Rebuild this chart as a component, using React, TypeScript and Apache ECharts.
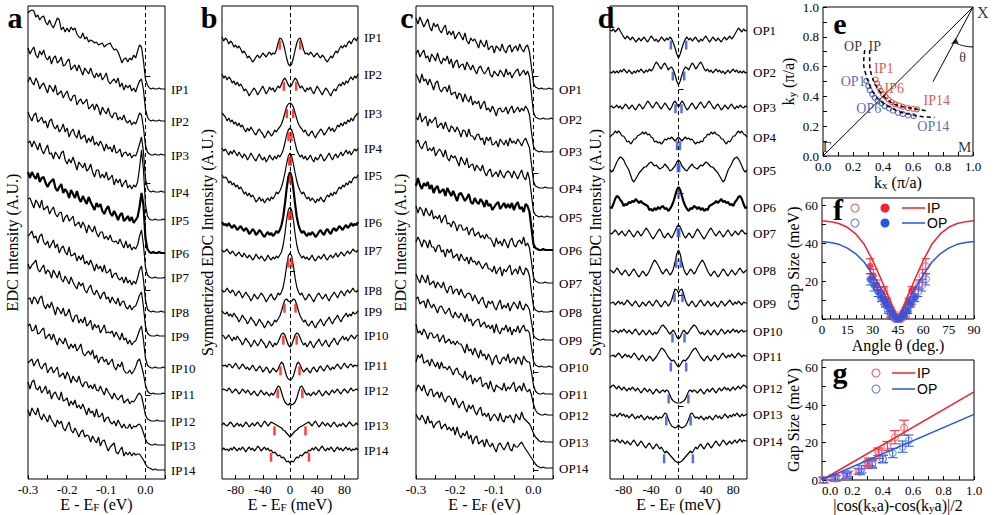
import React, { useEffect, useRef } from 'react';
import * as echarts from 'echarts';

const SERIF = "'Liberation Serif', 'Times New Roman', serif";
const SANS = "'Liberation Sans', Arial, sans-serif";
const RED = '#f5222d';
const BLUE = '#2456e8';
const E_RED = '#e02828';
const E_BLUE = '#2a45b5';

// ---------------- Panel a: in-plane (IP) EDCs, heights above the tail, E = -0.300 .. 0.050 eV step 0.005
const IP_A1 = [76,78,79,78,72,74,69,72,73,67,64,69,64,61,66,71,69,59,62,57,61,57,62,59,61,55,52,51,56,50,52,47,49,48,46,47,44,45,46,42,44,45,46,42,39,40,37,32,26,30,31,27,31,29,34,31,38,44,42,28,10,4,1,0,1,0,0,1,0,0,0];
const IP_A2 = [73,67,71,74,66,63,70,66,71,64,61,65,57,63,65,58,60,64,55,56,60,62,51,54,56,50,56,51,46,53,50,47,53,47,43,48,44,48,41,44,48,40,37,40,42,38,43,34,38,31,36,33,36,30,33,29,35,40,42,31,12,4,1,0,1,0,0,1,0,0,0];
const IP_A3 = [73,78,73,70,77,73,66,70,72,67,62,70,67,63,70,60,62,64,57,61,64,57,54,59,60,50,54,56,51,53,56,46,48,51,45,51,47,40,48,44,41,47,40,37,42,42,35,38,35,40,34,32,35,30,33,31,36,42,40,27,10,3,1,0,0,1,0,0,1,0,0];
const IP_A4 = [80,75,71,77,79,70,72,75,69,71,64,71,73,66,63,67,60,63,68,60,64,55,60,63,57,54,62,53,55,57,49,54,50,56,47,50,46,51,47,41,48,43,45,40,47,39,40,43,35,39,40,36,39,34,37,36,41,48,55,40,14,4,1,0,1,0,0,0,1,0,0];
const IP_A5 = [77,79,73,79,75,70,77,70,66,71,75,66,67,61,68,65,61,67,69,60,56,61,57,63,57,50,58,55,52,57,49,51,56,48,43,50,50,42,46,42,48,40,42,45,35,41,37,41,33,37,40,32,35,31,35,33,38,52,70,50,16,4,1,0,0,1,0,0,0,1,0];
const IP_A6 = [81,75,81,77,74,80,71,75,76,70,66,70,72,74,65,62,66,69,60,64,61,55,63,59,55,62,55,51,57,53,49,56,51,47,43,50,46,49,42,39,44,47,40,37,42,38,33,38,40,32,34,37,32,36,30,33,36,46,60,48,15,4,1,0,1,0,0,1,0,0,0];
const IP_A7 = [79,80,75,70,78,75,70,78,68,70,72,64,68,71,64,61,65,66,56,61,63,57,59,62,52,54,56,50,56,52,45,53,49,46,52,45,41,46,46,39,42,38,43,37,36,37,34,39,34,30,37,30,34,28,31,29,33,42,48,33,11,3,1,0,0,1,0,0,0,0,1];
const IP_A8 = [76,78,81,74,76,69,76,78,70,67,71,64,68,72,64,68,59,64,66,60,57,65,56,57,59,51,56,52,57,48,51,47,52,47,41,48,43,46,40,47,39,40,43,34,38,39,34,32,35,29,35,29,32,27,31,28,34,42,46,32,12,3,1,0,1,0,0,0,1,0,0];
const IP_A9 = [72,67,71,73,76,67,64,68,71,62,66,64,58,66,62,58,65,57,54,60,56,52,59,54,50,47,54,50,53,46,43,48,51,44,41,46,42,37,42,44,37,39,33,39,35,32,38,30,34,35,29,27,31,26,29,30,35,41,44,29,10,3,1,0,0,0,1,0,0,0,0];
const IP_A10 = [69,70,64,71,69,64,70,72,63,59,64,60,66,60,53,61,58,54,60,52,54,59,51,46,52,53,45,49,45,51,42,44,48,38,44,40,43,35,39,43,35,36,35,37,31,36,32,28,35,28,30,24,28,23,26,27,32,38,42,28,10,3,1,0,0,1,0,0,0,1,0];
const IP_A11 = [68,70,63,64,69,60,61,64,66,55,58,60,54,60,54,49,56,53,50,56,50,45,50,46,50,43,46,50,41,38,41,43,39,44,35,39,31,36,37,32,35,29,32,35,27,24,30,27,32,24,21,21,24,20,23,27,33,35,28,20,9,3,1,0,1,0,0,0,0,1,0];
const IP_A12 = [58,60,62,55,59,62,55,52,56,58,48,52,54,48,51,54,44,46,48,42,49,45,38,45,41,39,45,38,34,39,39,33,36,32,37,31,30,35,30,26,33,29,26,22,28,24,21,24,26,18,20,22,17,20,19,22,26,28,25,16,6,2,1,0,0,0,1,0,0,0,0];
const IP_A13 = [63,56,63,65,57,55,59,52,55,59,51,55,46,51,53,48,45,53,44,45,47,39,44,40,45,37,40,36,41,36,30,37,32,34,28,36,28,29,32,23,27,28,23,21,24,19,25,21,17,21,17,17,21,16,19,18,20,21,18,12,6,2,1,0,0,1,0,0,0,0,0];
const IP_A14 = [60,54,62,58,55,62,54,50,56,52,48,55,50,47,43,50,46,49,42,39,44,48,40,37,42,38,33,38,40,33,35,34,28,34,30,27,33,24,29,30,24,19,23,25,27,18,16,20,23,14,18,15,18,14,17,15,16,16,13,10,6,3,2,1,0,1,0,0,0,0,0];
const A_OFFSET = [390, 358, 324, 287, 259, 226, 201, 167, 143, 111, 85, 58, 34, 9];

// ---------------- Panel c: out-of-plane (OP) EDCs
const OP_C1 = [71,65,72,67,62,66,70,62,58,66,62,65,59,56,61,64,54,58,54,58,50,54,57,53,49,56,48,45,51,48,50,46,41,49,45,42,49,39,42,43,36,43,41,38,45,39,36,42,44,37,41,43,38,45,40,37,42,44,37,22,6,2,1,0,1,0,0,0,1,0,0];
const OP_C2 = [65,69,62,66,69,61,63,57,65,62,58,66,59,55,61,58,63,55,60,51,57,59,51,54,55,49,57,53,49,54,49,45,51,53,48,45,48,52,44,42,48,45,43,49,46,42,50,44,47,41,45,48,50,43,46,49,44,48,42,25,7,2,1,0,0,1,0,0,0,1,0];
const OP_C3 = [78,74,69,78,71,73,67,73,68,62,69,71,63,60,64,65,60,67,57,59,60,53,59,57,50,58,53,50,56,47,51,48,51,43,48,51,42,44,40,46,42,36,43,44,40,41,45,38,43,46,39,42,45,40,44,41,46,43,37,20,6,2,1,0,1,0,0,0,0,0,1];
const OP_C4 = [71,68,75,66,69,72,62,69,65,68,71,60,63,65,59,66,60,56,62,60,56,61,57,51,58,57,51,59,52,52,48,53,54,48,50,43,51,47,51,43,44,47,41,49,46,43,48,42,50,45,47,44,49,46,42,47,50,45,40,24,7,2,1,0,0,0,1,0,0,0,0];
const OP_C5 = [74,77,71,68,73,76,66,69,66,70,61,65,68,65,60,67,59,56,62,59,61,56,51,60,56,52,59,49,52,53,46,52,49,46,52,45,41,46,48,40,43,45,40,47,42,39,44,46,44,39,46,42,38,43,47,40,37,45,38,22,6,2,1,0,1,0,0,1,0,0,0];
const OP_C6 = [64,72,65,61,67,64,68,61,65,57,62,64,57,59,61,54,62,58,54,59,54,49,56,57,53,49,52,56,48,46,52,48,46,51,48,43,50,44,46,40,43,46,48,41,44,47,42,46,42,47,40,45,48,41,43,38,46,44,38,22,6,2,1,0,0,1,0,0,0,0,0];
const OP_C7 = [77,70,76,73,67,75,70,67,73,64,67,64,68,60,65,68,59,60,56,62,59,52,58,58,53,53,56,48,53,55,47,49,51,45,48,44,49,45,45,41,36,45,39,42,37,44,40,35,42,45,38,36,41,43,39,46,37,40,35,21,6,2,1,0,0,0,1,0,0,0,0];
const OP_C8 = [70,75,71,65,72,70,64,72,65,65,60,66,67,60,62,55,63,59,63,54,56,58,51,58,54,51,55,48,55,50,51,47,51,47,43,47,49,43,43,40,46,38,42,45,36,43,40,44,47,37,41,43,38,46,40,37,44,42,36,20,6,2,1,0,1,0,0,0,0,1,0];
const OP_C9 = [66,61,57,65,61,57,65,55,57,59,52,58,55,52,58,51,47,53,54,46,50,51,45,51,46,42,46,47,45,39,45,41,36,40,43,36,32,39,36,39,33,30,36,40,31,35,32,37,29,34,38,35,31,39,32,30,36,34,30,18,5,2,1,0,0,1,0,0,0,0,0];
const OP_C10 = [68,70,63,65,66,59,68,63,59,63,59,54,60,61,57,53,56,59,52,49,55,51,49,54,50,45,53,46,48,41,45,47,48,40,43,45,39,42,38,42,34,43,36,33,39,37,42,35,40,32,38,35,41,34,39,42,36,37,34,20,6,2,1,0,1,0,0,0,1,0,0];
const OP_C11 = [70,61,63,59,65,61,55,61,61,56,57,60,52,56,59,51,53,55,50,53,49,53,50,50,46,41,50,43,45,39,46,41,36,44,38,40,34,40,36,29,36,39,32,30,35,37,33,40,31,34,36,30,37,35,29,38,34,32,32,22,9,3,1,0,0,1,0,0,0,0,0];
const OP_C12 = [53,60,57,61,52,53,55,49,56,52,48,53,46,53,47,48,45,49,45,40,45,47,41,40,37,44,35,38,40,31,37,33,36,38,28,31,32,26,34,27,23,30,28,27,25,32,24,28,26,30,33,23,27,29,24,32,26,23,26,20,11,5,2,1,0,0,1,0,0,0,0];
const OP_C13 = [51,57,55,51,57,50,46,52,53,45,48,50,44,50,44,40,45,46,43,37,44,39,34,38,41,34,30,37,33,37,31,27,32,35,26,29,25,29,21,25,28,25,21,29,22,20,26,24,27,23,19,28,25,22,30,24,22,20,18,14,9,5,3,1,0,1,0,0,0,0,0];
const OP_C14 = [54,50,48,53,49,44,52,45,47,40,44,46,47,39,42,44,38,41,37,41,33,41,34,30,35,32,37,29,33,24,30,32,24,26,28,21,29,24,21,25,20,16,23,25,21,18,22,26,19,17,24,21,21,24,26,22,19,16,13,10,7,4,2,1,0,1,0,0,0,0,0];
const C_OFFSET = [390, 360, 327, 291, 262, 229, 196, 167, 139, 112, 85, 64, 37, 11];

// ---------------- Panel b: symmetrized IP EDCs, half curves E = 0 .. 100 meV step 2.5 (relative to curve end)
const IP_B1 = [-29,-27,-21,-13,-6,-2,-1,-6,-13,-17,-16,-18,-15,-17,-20,-18,-16,-19,-21,-18,-20,-23,-25,-22,-19,-21,-17,-14,-16,-12,-9,-11,-8,-10,-6,-4,-7,-3,-1,-4,0];
const IP_B2 = [-13,-11,-7,-4,-6,-10,-14,-12,-15,-18,-14,-16,-13,-17,-20,-16,-12,-15,-18,-21,-17,-14,-16,-19,-22,-18,-15,-17,-13,-10,-12,-8,-11,-7,-9,-5,-3,-6,-2,-4,0];
const IP_B3 = [10,9,6,0,-6,-11,-14,-16,-19,-17,-21,-23,-20,-18,-22,-25,-21,-19,-16,-18,-22,-20,-17,-14,-18,-15,-19,-16,-12,-14,-10,-13,-9,-11,-7,-9,-5,-8,-4,-2,0];
const IP_B4 = [20,18,13,5,-2,-6,-9,-7,-11,-8,-12,-10,-7,-11,-14,-9,-12,-10,-6,-9,-13,-11,-8,-5,-9,-12,-8,-6,-10,-7,-4,-8,-5,-2,-6,-3,-7,-4,-1,-3,0];
const IP_B5 = [22,19,11,2,-6,-12,-16,-19,-17,-21,-24,-22,-26,-23,-25,-28,-24,-26,-22,-25,-27,-23,-20,-22,-18,-21,-17,-19,-15,-12,-14,-10,-12,-8,-10,-6,-8,-4,-2,-3,0];
const IP_B6 = [50,45,33,18,5,-3,-8,-11,-9,-12,-14,-11,-13,-10,-12,-15,-13,-10,-8,-11,-13,-9,-7,-10,-12,-8,-6,-9,-7,-4,-6,-8,-5,-3,-6,-4,-1,-4,-2,-3,0];
const IP_B7 = [43,40,30,16,5,-2,-5,-8,-6,-9,-7,-10,-8,-5,-9,-11,-8,-6,-9,-7,-4,-8,-10,-7,-5,-8,-6,-3,-7,-5,-2,-4,-6,-3,-1,-4,-2,1,-1,-2,0];
const IP_B8 = [37,34,24,12,3,-2,-5,-3,-7,-10,-8,-4,-6,-9,-12,-8,-5,-3,-6,-9,-7,-4,-8,-11,-7,-5,-2,-5,-8,-4,-1,-3,-6,-2,0,-3,-1,2,-1,-2,0];
const IP_B9 = [9,10,12,11,6,0,-5,-8,-11,-9,-13,-15,-12,-10,-14,-17,-13,-11,-8,-12,-15,-11,-9,-6,-10,-13,-9,-7,-4,-8,-11,-7,-5,-2,-6,-3,-5,-1,-3,-2,0];
const IP_B10 = [-12,-10,-5,0,2,1,-3,-7,-10,-8,-12,-9,-6,-10,-13,-9,-7,-4,-8,-11,-8,-5,-9,-12,-8,-6,-3,-7,-10,-6,-4,-1,-5,-2,-6,-3,0,-2,-4,-1,0];
const IP_B11 = [-15,-14,-11,-5,1,3,0,-4,-7,-5,-3,-6,-8,-4,-2,-5,-7,-3,-1,-4,-6,-3,0,-3,-5,-2,-4,-1,1,-2,-4,-1,2,-1,-3,0,1,-2,0,-1,0];
const IP_B12 = [-13,-15,-14,-12,-8,-2,3,4,1,-3,-5,-3,-6,-4,-2,-5,-3,0,-3,-6,-4,-1,-3,-5,-2,0,-3,-1,1,-2,-4,-1,1,-1,-3,0,2,-1,0,1,0];
const IP_B13 = [-12,-10,-8,-6,-5,-3,-2,-1,0,1,2,3,1,-1,2,4,1,-2,0,3,1,-1,2,0,-2,1,3,0,-2,1,-1,2,0,-2,1,3,1,-1,0,2,0];
const IP_B14 = [-13,-11,-12,-9,-7,-8,-5,-6,-4,-2,-3,0,-1,2,0,3,1,-1,2,4,1,-1,2,0,3,1,-2,1,3,0,2,-1,1,3,0,2,-1,1,0,2,0];
const B_OFFSET = [442, 405, 366, 331, 304, 257, 229, 189, 168, 144, 114, 89, 54, 29];

// ---------------- Panel d: symmetrized OP EDCs
const OP_D1 = [-28,-24,-18,-13,-9,-7,-10,-8,-11,-9,-7,-10,-12,-9,-11,-8,-6,-9,-12,-10,-7,-9,-11,-8,-10,-12,-9,-7,-10,-8,-6,-9,-7,-4,-1,2,0,-2,1,-1,0];
const OP_D2 = [-13,-9,-3,2,5,4,2,6,9,7,3,5,8,10,7,3,1,3,0,2,-1,1,3,0,2,-1,1,-2,0,2,-1,1,3,0,2,-1,1,-1,1,-1,0];
const OP_D3 = [0,3,6,4,0,-3,-1,2,4,1,-2,0,3,5,2,-1,1,4,6,3,0,-2,1,3,0,-3,-1,2,0,-2,1,3,0,-2,1,-1,2,0,-1,1,0];
const OP_D4 = [0,-2,-4,-2,0,-2,-1,-3,-2,-5,-7,-5,-6,-4,-5,-1,0,3,2,5,3,5,3,2,1,-2,-2,-5,-7,-4,-5,-2,1,1,4,6,4,6,3,2,0];
const OP_D5 = [10,8,4,2,0,-1,2,4,6,3,2,1,3,5,4,6,8,7,5,3,3,1,-1,-3,-6,-9,-12,-10,-5,0,3,6,10,12,13,11,8,4,0,-2,0];
const OP_D6 = [18,15,9,3,-1,-4,-6,-3,-4,-1,-2,-4,-2,-5,-3,-6,-4,-5,-1,0,1,2,4,2,4,6,3,4,2,3,0,1,-1,3,5,8,9,6,1,-3,-2];
const OP_D7 = [8,6,2,-2,-5,-3,0,-2,-5,-3,1,4,2,-1,-4,-6,-3,0,3,5,2,-1,-3,0,2,-1,-4,-2,1,3,0,-3,-1,2,0,-2,1,3,1,-1,0];
const OP_D8 = [20,16,8,1,-3,-5,-2,1,-1,-4,-2,2,5,8,10,7,3,-1,-4,-6,-3,-1,-4,-7,-5,-2,1,-1,-4,-6,-3,0,-2,-5,-3,0,2,-1,-3,-1,0];
const OP_D9 = [10,13,14,9,3,-1,-3,0,2,-1,-4,-2,1,3,0,-3,-1,2,0,-3,-1,1,-2,-4,-1,2,0,-3,-1,1,3,0,-2,1,-1,2,0,-2,1,0,0];
const OP_D10 = [-8,-6,-2,1,-1,-3,-1,2,4,6,5,2,-1,-3,-1,-4,-2,1,-2,-4,-1,1,-2,-4,-1,2,0,-3,-1,1,-2,0,2,-1,1,-2,0,1,-1,0,0];
const OP_D11 = [-11,-9,-6,-4,-5,-3,-1,2,5,7,8,5,2,-1,-3,-5,-2,0,-3,-5,-2,1,-1,-4,-2,1,3,0,-2,1,-1,2,0,-2,1,3,1,-1,1,0,0];
const OP_D12 = [-15,-15,-14,-13,-11,-7,-3,-2,-4,-2,-3,-5,-3,-1,-4,-6,-3,-1,-4,-2,0,-3,-5,-2,0,-3,-1,1,-2,0,-3,-1,1,-2,0,2,-1,1,3,2,0];
const OP_D13 = [-11,-13,-14,-13,-12,-9,-5,0,1,-2,-4,-3,-5,-2,-4,-6,-3,-5,-2,-4,-6,-3,-1,-4,-2,-5,-3,0,-2,-4,-1,-3,0,-2,1,-1,-3,0,-2,-1,0];
const OP_D14 = [-22,-21,-20,-18,-16,-14,-12,-10,-12,-9,-6,-8,-5,-3,-6,-8,-5,-2,-4,-7,-5,-2,0,-3,-5,-2,1,-1,-4,-2,0,-3,-1,1,-2,0,2,-1,1,0,0];
const D_OFFSET = [449, 407, 372, 342, 309, 274, 246, 209, 176, 148, 123, 91, 65, 38];

// ---------------- Gaps (meV) per cut
const IP_GAP = [15.1, 9.1, 4.7, 2.2, 1.0, 0, 1.2, 2.5, 8.1, 9.8, 14.0, 18.1, 22.8, 27.9];
const OP_GAP = [11.2, 8.3, 4.4, 2.2, 1.0, 0, 1.0, 3.2, 5.8, 8.8, 11.2, 14.4, 17.8, 21.0];
const IP_ERR = [2, 2, 1.5, 1.5, 1.5, 1.5, 1.5, 1.5, 2, 2, 2.5, 2.5, 3.5, 4];
const OP_ERR = [2, 2, 1.5, 1.5, 1.5, 1.5, 1.5, 1.5, 2, 2, 2, 2.5, 3, 3];
const IP_THETA = [53.1, 51.3, 49.3, 47.6, 45.7, 44.0, 42.2, 40.3, 38.6, 36.7, 34.9, 32.5, 30.4, 28.5];
const OP_THETA = [55.1, 52.7, 51.0, 48.8, 47.1, 45.3, 43.4, 41.5, 39.4, 37.4, 35.2, 33.0, 30.7, 28.4];
const IP_DWAVE = [0.37, 0.31, 0.24, 0.16, 0.09, 0.01, 0.08, 0.165, 0.30, 0.31, 0.375, 0.43, 0.48, 0.54];
const OP_DWAVE = [0.40, 0.33, 0.25, 0.16, 0.09, 0.01, 0.08, 0.17, 0.26, 0.33, 0.40, 0.465, 0.53, 0.57];

// ---------------- Panel e: Fermi surface points
const E_IP_KX = [0.351, 0.36, 0.373, 0.384, 0.4, 0.418, 0.436, 0.458, 0.48, 0.507, 0.533, 0.567, 0.6, 0.627];
const E_IP_KY = [0.513, 0.487, 0.46, 0.438, 0.415, 0.397, 0.379, 0.362, 0.348, 0.339, 0.33, 0.321, 0.317, 0.313];
const E_OP_KX = [0.289, 0.302, 0.311, 0.329, 0.344, 0.364, 0.389, 0.411, 0.44, 0.467, 0.5, 0.533, 0.567, 0.604];
const E_OP_KY = [0.504, 0.469, 0.442, 0.413, 0.391, 0.371, 0.353, 0.335, 0.319, 0.304, 0.29, 0.281, 0.272, 0.268];
const FS_OP_KX = [0.278, 0.271, 0.284, 0.311, 0.344, 0.389, 0.444, 0.511, 0.6, 0.667, 0.744];
const FS_OP_KY = [0.71, 0.62, 0.554, 0.475, 0.413, 0.364, 0.33, 0.297, 0.275, 0.263, 0.259];
const FS_IP_KX = [0.311, 0.311, 0.324, 0.351, 0.389, 0.433, 0.489, 0.556, 0.633, 0.7];
const FS_IP_KY = [0.71, 0.62, 0.542, 0.475, 0.42, 0.375, 0.342, 0.326, 0.3125, 0.301];
const THETA_LINE_END = [0.733, 0.498];

// ---------------- Panel f: d-wave fits vs angle
const FIT_THETA = [0, 5, 10, 15, 20, 25, 30, 35, 40, 45, 50, 55, 60, 65, 70, 75, 80, 85, 90];
const FIT_IP = [52, 51.5, 50.5, 48.5, 45, 39.5, 31, 21, 10.5, 0, 10.5, 21, 31, 39.5, 45, 48.5, 50.5, 51.5, 52];
const FIT_OP = [41, 40.5, 39.5, 37.5, 34.5, 30, 23.5, 16, 8, 0, 8, 16, 23.5, 30, 34.5, 37.5, 39.5, 40.5, 41];
// ---------------- Panel g: linear fits
const LIN_X = [0, 1];
const LIN_IP = [0, 47];
const LIN_OP = [0, 35];

const IP_NAMES = IP_GAP.map((_, i) => 'IP' + (i + 1));
const OP_NAMES = OP_GAP.map((_, i) => 'OP' + (i + 1));

const EDC_X = Array.from({ length: 71 }, (_, i) => Math.round((-0.3 + 0.005 * i) * 1000) / 1000);
const HALF_X = Array.from({ length: 41 }, (_, j) => j * 2.5);
const FULL_X = [...HALF_X.slice(1).map((v) => -v).reverse(), ...HALF_X];

function fullY(half: number[]) {
  return [...half.slice(1).reverse(), ...half];
}
function halfAt(half: number[], e: number) {
  const p = Math.abs(e) / 2.5;
  const i = Math.min(Math.floor(p), 39);
  const f = p - i;
  return half[i] * (1 - f) + half[i + 1] * f;
}

const tickStyle = { color: '#000', fontFamily: SERIF, fontSize: 13 };
const rich = {
  s: { fontSize: 11, fontFamily: SERIF, lineHeight: 10, verticalAlign: 'bottom', color: '#000' },
};

function labelText(name: string) {
  return { show: true, formatter: name, color: '#000', fontFamily: SERIF, fontSize: 13, distance: 6 };
}

function buildOption() {
  const grids = [
    { left: 28, top: 6, width: 137, height: 473 },
    { left: 222, top: 6, width: 136, height: 473 },
    { left: 416, top: 6, width: 137, height: 473 },
    { left: 610, top: 6, width: 137, height: 473 },
    { left: 823, top: 7, width: 150, height: 149 },
    { left: 822, top: 198, width: 152, height: 121 },
    { left: 822, top: 360, width: 152, height: 120 },
  ].map((g) => ({
    ...g, show: true, borderColor: '#000', borderWidth: 1, backgroundColor: 'transparent',
    containLabel: false, outerBoundsMode: 'none',
  }));

  const mkX = (gi: number, min: number, max: number, labels: number[], ticks: number[], fmt: (v: number) => string, name: string, nameGap: number, margin = 4, alignMin?: string) => ({
    type: 'value', gridIndex: gi, min, max,
    axisLine: { show: false },
    splitLine: { show: false },
    axisTick: { show: true, inside: true, length: 4, customValues: ticks, lineStyle: { color: '#000' } },
    axisLabel: { ...tickStyle, lineHeight: 12, customValues: labels, formatter: fmt, margin, ...(alignMin ? { alignMinLabel: alignMin } : {}) },
    name, nameLocation: 'middle', nameGap, nameMoveOverlap: false,
    nameTextStyle: { color: '#000', fontFamily: SERIF, fontSize: 16, lineHeight: 16, rich },
  });
  const mkY = (gi: number, min: number, max: number, labels: number[] | null, ticks: number[], fmt: any, name: string, nameGap: number) => ({
    type: 'value', gridIndex: gi, min, max,
    axisLine: { show: false },
    splitLine: { show: false },
    axisTick: { show: true, inside: true, length: labels ? 4 : 5, customValues: ticks, lineStyle: { color: '#000' } },
    axisLabel: labels ? { ...tickStyle, lineHeight: 11, customValues: labels, formatter: fmt, margin: 4 } : { show: false },
    name, nameLocation: 'middle', nameGap, nameMoveOverlap: false,
    nameTextStyle: { color: '#000', fontFamily: SERIF, fontSize: 16, lineHeight: 18, rich },
  });

  const f1 = (v: number) => v.toFixed(1);
  const f0 = (v: number) => String(Math.round(v));
  const edcTicks = [-0.3, -0.25, -0.2, -0.15, -0.1, -0.05, 0, 0.05];
  const symTicks = [-80, -60, -40, -20, 0, 20, 40, 60, 80];
  const tenths = [0, 0.1, 0.2, 0.3, 0.4, 0.5, 0.6, 0.7, 0.8, 0.9, 1];
  const fifths = [0, 0.2, 0.4, 0.6, 0.8, 1];

  const xAxis = [
    mkX(0, -0.3, 0.05, [-0.3, -0.2, -0.1, 0], edcTicks, f1, 'E - E{s|F} (eV)', 17),
    mkX(1, -100, 100, [-80, -40, 0, 40, 80], symTicks, f0, 'E - E{s|F} (meV)', 17),
    mkX(2, -0.3, 0.05, [-0.3, -0.2, -0.1, 0], edcTicks, f1, 'E - E{s|F} (eV)', 17),
    mkX(3, -100, 100, [-80, -40, 0, 40, 80], symTicks, f0, 'E - E{s|F} (meV)', 17),
    mkX(4, 0, 1, fifths, tenths, f1, 'k{s|x} (π/a)', 18),
    mkX(5, 0, 90, [0, 15, 30, 45, 60, 75, 90], [0, 5, 10, 15, 20, 25, 30, 35, 40, 45, 50, 55, 60, 65, 70, 75, 80, 85, 90], f0, 'Angle θ (deg.)', 18, 4),
    mkX(6, 0, 1, fifths, tenths, f1, '|cos(k{s|x}a)-cos(k{s|y}a)|/2', 17, 4, 'left'),
  ];
  const yAxis = [
    mkY(0, 0, 473, null, [84, 189, 296, 403], null, 'EDC Intensity (A.U.)', 7),
    mkY(1, 0, 473, null, [208, 325], null, 'Symmetrized EDC Intensity (A.U.)', 6),
    mkY(2, 0, 473, null, [9, 107, 306, 403], null, 'EDC Intensity (A.U.)', 7),
    mkY(3, 0, 473, null, [73, 184, 286, 390], null, 'Symmetrized EDC Intensity (A.U.)', 6),
    mkY(4, 0, 1, fifths, tenths, f1, 'k{s|y} (π/a)', 26),
    mkY(5, 0, 64, [0, 20, 40, 60], [0, 10, 20, 30, 40, 50, 60], f0, 'Gap Size (meV)', 20),
    mkY(6, 0, 64, [0, 20, 40, 60], [0, 10, 20, 30, 40, 50, 60], f0, 'Gap Size (meV)', 20),
  ];

  const series: any[] = [];
  const dashed = { silent: true, symbol: ['none', 'none'], label: { show: false }, lineStyle: { type: [4, 3], color: '#000', width: 1 }, data: [{ xAxis: 0 }] };
  const LW = 1.2;

  const edcPanel = (curves: number[][], offsets: number[], names: string[], ax: number) => {
    curves.forEach((vals, k) => {
      series.push({
        type: 'line', xAxisIndex: ax, yAxisIndex: ax, symbol: 'none', silent: true,
        data: EDC_X.map((x, i) => [x, offsets[k] + vals[i]]),
        lineStyle: { color: '#000', width: k === 5 ? 2.2 : LW },
        endLabel: labelText(names[k]),
        markLine: k === 0 ? dashed : undefined,
      });
    });
  };
  const symPanel = (halves: number[][], offsets: number[], names: string[], ax: number, gaps: number[], color: string) => {
    halves.forEach((half, k) => {
      const ys = fullY(half);
      series.push({
        type: 'line', xAxisIndex: ax, yAxisIndex: ax, symbol: 'none', silent: true,
        data: FULL_X.map((x, i) => [x, offsets[k] + ys[i]]),
        lineStyle: { color: '#000', width: k === 5 ? 2.2 : LW },
        endLabel: labelText(names[k]),
        markLine: k === 0 ? dashed : undefined,
      });
    });
    const marks: number[][] = [];
    gaps.forEach((g, k) => {
      const y = offsets[k] + halfAt(halves[k], g) - 7;
      if (g === 0) marks.push([0, y]);
      else { marks.push([-g, y]); marks.push([g, y]); }
    });
    series.push({
      type: 'scatter', xAxisIndex: ax, yAxisIndex: ax, symbol: 'rect', symbolSize: [2.5, 9], silent: true,
      itemStyle: { color }, data: marks, z: 5,
    });
  };

  edcPanel([IP_A1, IP_A2, IP_A3, IP_A4, IP_A5, IP_A6, IP_A7, IP_A8, IP_A9, IP_A10, IP_A11, IP_A12, IP_A13, IP_A14], A_OFFSET, IP_NAMES, 0);
  symPanel([IP_B1, IP_B2, IP_B3, IP_B4, IP_B5, IP_B6, IP_B7, IP_B8, IP_B9, IP_B10, IP_B11, IP_B12, IP_B13, IP_B14], B_OFFSET, IP_NAMES, 1, IP_GAP, '#ff1010');
  edcPanel([OP_C1, OP_C2, OP_C3, OP_C4, OP_C5, OP_C6, OP_C7, OP_C8, OP_C9, OP_C10, OP_C11, OP_C12, OP_C13, OP_C14], C_OFFSET, OP_NAMES, 2);
  symPanel([OP_D1, OP_D2, OP_D3, OP_D4, OP_D5, OP_D6, OP_D7, OP_D8, OP_D9, OP_D10, OP_D11, OP_D12, OP_D13, OP_D14], D_OFFSET, OP_NAMES, 3, OP_GAP, '#2a4fd0');

  // ---- panel e
  const e = { xAxisIndex: 4, yAxisIndex: 4, silent: true };
  series.push({ ...e, type: 'line', symbol: 'none', data: [[0, 0], [1, 1]], lineStyle: { color: '#000', width: 1 } });
  series.push({ ...e, type: 'line', symbol: 'none', data: [[1, 1], THETA_LINE_END], lineStyle: { color: '#000', width: 1 } });
  const r = 0.268;
  const thetaEnd = Math.atan2(1 - THETA_LINE_END[0], 1 - THETA_LINE_END[1]);
  const arc: number[][] = [];
  for (let i = 0; i <= 20; i++) {
    const a = (thetaEnd * i) / 20;
    arc.push([1 - r * Math.sin(a), 1 - r * Math.cos(a)]);
  }
  series.push({ ...e, type: 'line', symbol: 'none', data: arc, lineStyle: { color: '#000', width: 1 } });
  series.push({
    ...e, type: 'scatter', symbol: 'triangle', symbolSize: [6, 7],
    symbolRotate: 90 + (thetaEnd * 180) / Math.PI,
    itemStyle: { color: '#000' }, data: [arc[arc.length - 1]],
  });
  series.push({ ...e, type: 'line', symbol: 'none', smooth: 0.4, data: FS_OP_KX.map((x, i) => [x, FS_OP_KY[i]]), lineStyle: { color: '#000', width: 1.5, type: [4, 3] } });
  series.push({ ...e, type: 'line', symbol: 'none', smooth: 0.4, data: FS_IP_KX.map((x, i) => [x, FS_IP_KY[i]]), lineStyle: { color: '#000', width: 1.5, type: [4, 3] } });
  series.push({ ...e, type: 'scatter', symbol: 'circle', symbolSize: 5, itemStyle: { color: 'transparent', borderColor: E_RED, borderWidth: 1.1 }, data: E_IP_KX.map((x, i) => [x, E_IP_KY[i]]) });
  series.push({ ...e, type: 'scatter', symbol: 'circle', symbolSize: 5, itemStyle: { color: 'transparent', borderColor: E_BLUE, borderWidth: 1.1 }, data: E_OP_KX.map((x, i) => [x, E_OP_KY[i]]) });
  const eText = (t: string, x: number, y: number, color: string, size = 14) => ({
    value: [x, y],
    label: { show: true, position: 'inside', formatter: t, color, fontFamily: SERIF, fontSize: size },
  });
  series.push({
    ...e, type: 'scatter', symbolSize: 0, z: 6,
    data: [
      eText('OP', 0.2, 0.733, '#000'),
      eText('IP', 0.345, 0.733, '#000'),
      eText('IP1', 0.405, 0.59, E_RED),
      eText('IP6', 0.475, 0.456, E_RED),
      eText('IP14', 0.758, 0.37, E_RED),
      eText('OP1', 0.201, 0.503, E_BLUE),
      eText('OP6', 0.305, 0.32, E_BLUE),
      eText('OP14', 0.735, 0.195, E_BLUE),
      eText('θ', 0.93, 0.664, '#000'),
      eText('M', 0.945, 0.06, '#000', 15),
      eText('Γ', 0.028, 0.06, '#000', 15),
    ],
  });
  series.push({
    ...e, type: 'scatter', symbolSize: 0, z: 6,
    data: [{ value: [1, 1], label: { show: true, position: 'right', distance: 4, offset: [0, 5], formatter: 'X', color: '#000', fontFamily: SERIF, fontSize: 16 } }],
  });

  // ---- error bars
  const errBar = (ax: number, data: number[][], color: string, cap: number) => ({
    type: 'custom', xAxisIndex: ax, yAxisIndex: ax, silent: true, encode: { x: 0, y: 1 },
    data,
    renderItem: (params: any, api: any) => {
      const x = api.value(0), y = api.value(1), er = api.value(2);
      const p0 = api.coord([x, y - er]);
      const p1 = api.coord([x, y + er]);
      const st = { stroke: color, lineWidth: 1 };
      return {
        type: 'group',
        children: [
          { type: 'line', shape: { x1: p0[0], y1: p0[1], x2: p1[0], y2: p1[1] }, style: st },
          { type: 'line', shape: { x1: p0[0] - cap, y1: p0[1], x2: p0[0] + cap, y2: p0[1] }, style: st },
          { type: 'line', shape: { x1: p1[0] - cap, y1: p1[1], x2: p1[0] + cap, y2: p1[1] }, style: st },
        ],
      };
    },
  });

  // ---- panel f
  series.push({ type: 'line', xAxisIndex: 5, yAxisIndex: 5, symbol: 'none', silent: true, data: FIT_THETA.map((t, i) => [t, FIT_IP[i]]), lineStyle: { color: RED, width: 1.5 } });
  series.push({ type: 'line', xAxisIndex: 5, yAxisIndex: 5, symbol: 'none', silent: true, data: FIT_THETA.map((t, i) => [t, FIT_OP[i]]), lineStyle: { color: BLUE, width: 1.5 } });
  const ipF = IP_THETA.map((t, i) => [t, IP_GAP[i], IP_ERR[i]]);
  const ipFm = IP_THETA.map((t, i) => [90 - t, IP_GAP[i], IP_ERR[i]]);
  const opF = OP_THETA.map((t, i) => [t, OP_GAP[i], OP_ERR[i]]);
  const opFm = OP_THETA.map((t, i) => [90 - t, OP_GAP[i], OP_ERR[i]]);
  series.push(errBar(5, ipF, RED, 4));
  series.push(errBar(5, ipFm, RED, 4));
  series.push(errBar(5, opF, BLUE, 4));
  series.push(errBar(5, opFm, BLUE, 4));
  series.push({ type: 'scatter', xAxisIndex: 5, yAxisIndex: 5, silent: true, symbolSize: 7, itemStyle: { color: 'transparent', borderColor: '#ff5a5a', borderWidth: 1.1 }, data: ipFm.map((d) => [d[0], d[1]]) });
  series.push({ type: 'scatter', xAxisIndex: 5, yAxisIndex: 5, silent: true, symbolSize: 7, itemStyle: { color: RED }, data: ipF.map((d) => [d[0], d[1]]) });
  series.push({ type: 'scatter', xAxisIndex: 5, yAxisIndex: 5, silent: true, symbolSize: 7, itemStyle: { color: 'transparent', borderColor: '#5c7dff', borderWidth: 1.1 }, data: opFm.map((d) => [d[0], d[1]]) });
  series.push({ type: 'scatter', xAxisIndex: 5, yAxisIndex: 5, silent: true, symbolSize: 7, itemStyle: { color: BLUE }, data: opF.map((d) => [d[0], d[1]]) });

  // ---- panel g
  series.push({ type: 'line', xAxisIndex: 6, yAxisIndex: 6, symbol: 'none', silent: true, data: LIN_X.map((x, i) => [x, LIN_IP[i]]), lineStyle: { color: RED, width: 1.5 } });
  series.push({ type: 'line', xAxisIndex: 6, yAxisIndex: 6, symbol: 'none', silent: true, data: LIN_X.map((x, i) => [x, LIN_OP[i]]), lineStyle: { color: BLUE, width: 1.5 } });
  const ipG = IP_DWAVE.map((x, i) => [x, IP_GAP[i], IP_ERR[i]]);
  const opG = OP_DWAVE.map((x, i) => [x, OP_GAP[i], OP_ERR[i]]);
  series.push(errBar(6, ipG, RED, 5));
  series.push(errBar(6, opG, BLUE, 5));
  series.push({ type: 'scatter', xAxisIndex: 6, yAxisIndex: 6, silent: true, symbolSize: 7, itemStyle: { color: 'transparent', borderColor: '#ff5a5a', borderWidth: 1.1 }, data: ipG.map((d) => [d[0], d[1]]) });
  series.push({ type: 'scatter', xAxisIndex: 6, yAxisIndex: 6, silent: true, symbolSize: 7, itemStyle: { color: 'transparent', borderColor: '#5c7dff', borderWidth: 1.1 }, data: opG.map((d) => [d[0], d[1]]) });

  const letter = (t: string, x: number, y: number, size = 30) => ({
    type: 'text', x, y, silent: true,
    style: { text: t, font: `bold ${size}px ${SERIF}`, fill: '#000', textAlign: 'center', textVerticalAlign: 'middle' },
  });
  const legendRow = (y: number, x0: number, color: string, light: string, text: string, filled: boolean) => {
    const items: any[] = [
      { type: 'circle', shape: { cx: x0, cy: y, r: 4 }, style: { fill: 'none', stroke: light, lineWidth: 1.1 }, silent: true },
    ];
    let lx = x0 + 16;
    if (filled) {
      items.push({ type: 'circle', shape: { cx: x0 + 30, cy: y, r: 4.5 }, style: { fill: color }, silent: true });
      lx = x0 + 47;
    }
    items.push({ type: 'line', shape: { x1: lx, y1: y, x2: lx + 23, y2: y }, style: { stroke: color, lineWidth: 1.5 }, silent: true });
    items.push({ type: 'text', x: lx + 25, y, silent: true, style: { text, font: `14px ${SANS}`, fill: '#000', textAlign: 'left', textVerticalAlign: 'middle' } });
    return items;
  };

  const graphic = [
    letter('a', 15, 17),
    letter('b', 209, 17),
    letter('c', 407, 17),
    letter('d', 606, 17),
    letter('e', 840, 23, 30),
    letter('f', 838, 209, 30),
    letter('g', 840, 372, 30),
    ...legendRow(208, 855, RED, '#ff5a5a', 'IP', true),
    ...legendRow(223, 855, BLUE, '#5c7dff', 'OP', true),
    ...legendRow(373, 876, RED, '#ff5a5a', 'IP', false),
    ...legendRow(389, 876, BLUE, '#5c7dff', 'OP', false),
  ];

  return {
    animation: false,
    backgroundColor: '#fff',
    grid: grids,
    xAxis,
    yAxis,
    series,
    graphic,
  };
}

export default function App() {
  const ref = useRef<HTMLDivElement>(null);
  useEffect(() => {
    const chart = echarts.init(ref.current as HTMLDivElement, null, { renderer: 'svg' });
    chart.setOption(buildOption() as any);
    return () => chart.dispose();
  }, []);
  return <div ref={ref} style={{ position: 'fixed', left: 0, top: 0, width: 996, height: 515, background: '#fff' }} />;
}
